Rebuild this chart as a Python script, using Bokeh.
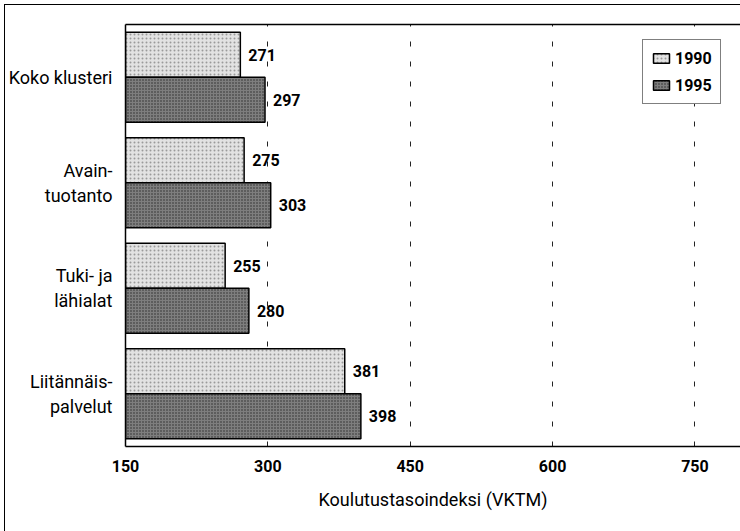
from bokeh.plotting import figure
from bokeh.models import (ColumnDataSource, Range1d, FixedTicker,
                          LinearAxis, Legend, LegendItem)
from bokeh.transform import dodge
from bokeh.core.properties import value
from bokeh.embed import file_html
from bokeh.resources import INLINE

# ---- data ----
categories = ["Koko klusteri", "Avain-\ntuotanto", "Tuki- ja\nlähialat", "Liitännäis-\npalvelut"]
values_1990 = [271, 275, 255, 381]
values_1995 = [297, 303, 280, 398]
x_ticks = [150, 300, 450, 600, 750]
grid_ticks = [300, 450, 600, 750]
series_names = ["1990", "1995"]

FONT = "Roboto"
n = len(categories)
pos = [n - 0.5 - i for i in range(n)]

src = ColumnDataSource(dict(
    pos=pos,
    v1990=values_1990,
    v1995=values_1995,
    t1990=[str(v) for v in values_1990],
    t1995=[str(v) for v in values_1995],
))

p = figure(width=740, height=531, output_backend="svg", toolbar_location=None,
           y_range=Range1d(0, n), x_range=Range1d(150, 798),
           min_border_left=125, min_border_right=0, min_border_top=24,
           min_border_bottom=85)
p.border_fill_color = None
p.background_fill_color = "white"
p.outline_line_color = None
p.styles = {"background": "linear-gradient(#000,#000) 4px 4px / 1px 100% no-repeat, "
                          "linear-gradient(#000,#000) 4px 4px / 100% 1px no-repeat, white"}

off = 0.2135
h = 0.427
r1 = p.hbar(y=dodge("pos", off), left=150, right="v1990", height=h,
            source=src, fill_color="#e2e2e2", line_color="black", line_width=1.5,
            hatch_pattern="dot", hatch_color="#9a9a9a", hatch_scale=4, hatch_weight=1)
r2 = p.hbar(y=dodge("pos", -off), left=150, right="v1995", height=h,
            source=src, fill_color="#7e7e7e", line_color="black", line_width=1.5,
            hatch_pattern="dot", hatch_color="#2a2a2a", hatch_scale=3, hatch_weight=1)

for fld, tfld, o in (("v1990", "t1990", off), ("v1995", "t1995", -off)):
    p.text(x=fld, y=dodge("pos", o), text=tfld, source=src,
           x_offset=8, text_baseline="middle", text_align="left",
           text_font=value(FONT), text_font_style="bold", text_font_size="16px",
           text_color="black")

# x axis
xa = p.xaxis[0]
xa.ticker = FixedTicker(ticks=x_ticks)
xa.axis_line_color = "black"
xa.axis_line_width = 1.5
xa.major_tick_out = 0
xa.major_tick_in = 0
xa.minor_tick_out = 0
xa.minor_tick_in = 0
xa.major_label_standoff = 13
xa.major_label_text_font = FONT
xa.major_label_text_font_style = "bold"
xa.major_label_text_font_size = "16px"
xa.major_label_text_color = "black"
xa.axis_label = "Koulutustasoindeksi (VKTM)"
xa.axis_label_text_font = FONT
xa.axis_label_text_font_style = "normal"
xa.axis_label_text_font_size = "18px"
xa.axis_label_text_color = "black"
xa.axis_label_standoff = 14

# y axis
ya = p.yaxis[0]
ya.ticker = FixedTicker(ticks=pos)
ya.axis_line_color = "black"
ya.axis_line_width = 1.5
ya.major_tick_out = 0
ya.major_tick_in = 0
ya.minor_tick_out = 0
ya.minor_tick_in = 0
ya.major_label_standoff = 13
ya.major_label_text_font = FONT
ya.major_label_text_font_size = "18px"
ya.major_label_text_color = "black"
ya.major_label_text_align = "right"
ya.major_label_overrides = {pv: lab for pv, lab in zip(pos, categories)}

# top frame line
top = LinearAxis(ticker=FixedTicker(ticks=[]), major_label_text_font_size="0px",
                 major_tick_out=0, major_tick_in=0, minor_tick_out=0, minor_tick_in=0,
                 axis_line_color="black", axis_line_width=1.5)
p.add_layout(top, "above")

# grid
p.ygrid.grid_line_color = None
p.xgrid.ticker = FixedTicker(ticks=grid_ticks)
p.xgrid.grid_line_color = "#222222"
p.xgrid.grid_line_width = 1
p.xgrid.grid_line_dash = "5 15"

legend = Legend(items=[LegendItem(label=series_names[0], renderers=[r1]),
                       LegendItem(label=series_names[1], renderers=[r2])],
                location=(517, 342), orientation="vertical",
                border_line_color="black", border_line_width=1.5,
                background_fill_color="white", background_fill_alpha=1,
                glyph_width=20, glyph_height=12, label_height=20, label_standoff=4,
                spacing=7, padding=8, margin=0,
                label_text_font=FONT, label_text_font_style="bold",
                label_text_font_size="16px", label_text_color="black")
p.add_layout(legend, "center")

open("out.html", "w").write(file_html(p, INLINE))
